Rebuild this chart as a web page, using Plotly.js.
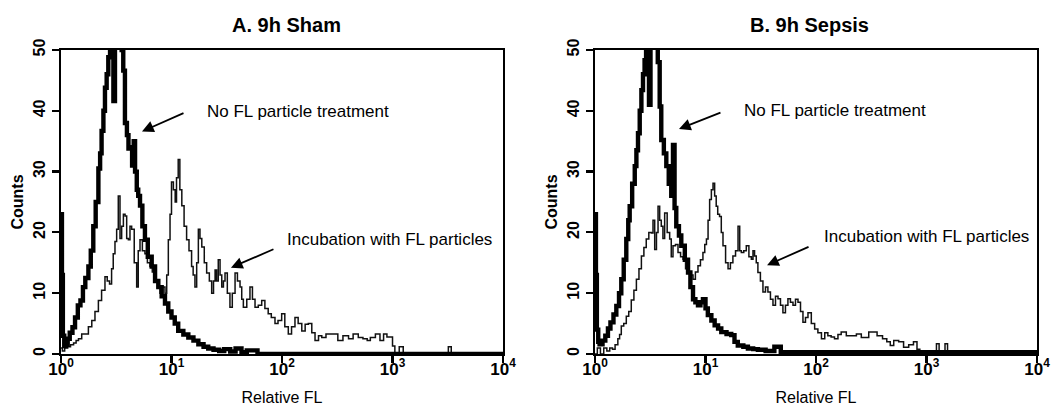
<!DOCTYPE html>
<html>
<head>
<meta charset="utf-8">
<script src="https://cdn.plot.ly/plotly-3.0.1.min.js"></script>
<style>html,body{margin:0;padding:0;background:#fff;}#chart{width:1057px;height:409px;}</style>
</head>
<body>
<div id="chart"></div>
<script>
// Panel A: 9h Sham — no FL particle treatment (thick)
var shamNoFL_x = [
1.00,1.02,1.04,1.07,1.10,1.15,1.20,1.27,1.34,1.42,
1.50,1.58,1.66,1.77,1.86,1.96,2.06,2.18,2.26,2.33,
2.42,2.50,2.59,2.68,2.78,2.88,2.98,3.08,3.18,3.30,
3.42,3.54,3.66,3.79,3.95,4.08,4.21,4.40,4.55,4.68,
4.85,5.00,5.19,5.45,5.75,6.10,6.62,7.10,7.60,8.15,
8.73,9.35,10.0,10.7,11.5,12.8,14.2,15.8,17.5,19.5,
21.5,24.0,27.0,30.0,34.0,38.0,43.0,48.0,60.0,10000];
var shamNoFL_y = [
23,13,3,1.3,1.5,2.5,3.5,4.4,6,8,
8.8,11,12.5,14.4,17,21,25,30.5,33,36.7,
40,43.8,46,48.8,52,55,41.6,53,55,52,
54,50,46.6,38,36,33.8,34,31,35,30,
27,26,24.4,21,18.8,16,14.4,12,11,9.5,
8.3,7,6,5,3.8,3.2,2.7,2.2,1.6,1.2,
0.9,0.7,0.5,0.8,0.4,0.9,0.3,0.6,0,0];

// Panel A: 9h Sham — incubation with FL particles (thin)
var shamFL_x = [
1.00,1.03,1.08,1.15,1.22,1.30,1.37,1.44,1.54,1.65,
1.77,1.90,2.03,2.18,2.33,2.50,2.62,2.75,2.87,2.97,
3.08,3.19,3.30,3.42,3.54,3.67,3.80,3.93,4.07,4.21,
4.36,4.60,4.84,5.00,5.19,5.45,5.75,6.05,6.38,6.70,
7.09,7.45,7.87,8.30,8.73,9.05,9.36,9.70,10.0,10.4,
10.8,11.1,11.5,11.9,12.4,13.0,13.7,14.4,15.2,15.7,
16.3,16.9,17.5,18.1,18.8,19.8,20.8,22.0,23.1,24.0,
24.8,25.6,26.5,27.5,28.5,29.5,30.5,32.0,33.8,35.5,
37.6,39.5,41.7,43.2,44.7,48.0,51.3,54.0,57.0,61.0,
65.5,70.0,75.0,80.0,86.4,92.0,99.3,106,114,122,
131,140,151,162,173,186,199,214,229,250,
282,320,356,400,440,490,540,590,630,700,
770,830,890,1000,1050,1150,1250,3000,3200,3400,
10000];
var shamFL_y = [
1,0.5,1,1.2,1.5,1.8,2.2,2.5,3.3,3.3,
4.5,5.5,7,8.8,10.5,12.7,12,11.5,14,16.5,
18.5,20.5,26,19,21,23,22.7,19,18.8,21,
20.5,15,11,17,18.8,17,16.5,15,14.4,13.5,
12,11,10,11,10,13,18.8,23,28.3,27,
25,29,32,27,24.4,21,18.8,17,14.4,13,
11,15,20.5,19,17.6,15,13.3,12,10,12,
13.8,12,15.5,13,11,12,13.3,10,7.7,10,
13.3,12,11,9,7.7,9,11,9,7.7,8,
8.8,7.5,6.6,6,5,5.5,6.6,4.5,3.3,4.5,
6,5,3.8,4.9,5,3.5,2.2,3,2.7,3.3,
3.3,2.2,3,2.5,3.3,2.7,2.5,2.2,2.7,3.3,
2.2,3.3,2.8,1.3,0,1.2,0,0,1.2,0,
0];

// Panel B: 9h Sepsis — no FL particle treatment (thick)
var sepsisNoFL_x = [
1.00,1.02,1.04,1.07,1.10,1.17,1.24,1.31,1.38,1.47,
1.56,1.65,1.73,1.82,1.92,2.00,2.06,2.17,2.29,2.37,
2.45,2.54,2.63,2.72,2.81,2.90,2.99,3.08,3.18,3.30,
3.42,3.55,3.70,3.85,3.98,4.20,4.42,4.65,4.90,5.08,
5.25,5.44,5.75,6.04,6.50,6.95,7.30,7.71,8.10,8.55,
9.00,9.48,10.0,10.5,11.3,12.1,13.0,13.9,15.5,17.1,
18.3,19.6,22.0,24.2,27.0,29.8,35.0,42.0,48.0,10000];
var sepsisNoFL_y = [
23,13,4,2,1.6,2.2,3,4.2,5.2,6.5,
7.9,10,12.3,15.5,18.9,22,24.3,28,30.9,33.5,
36.3,40,43.4,46,48.3,52,55,41,54,55,
52,53,48,40.7,35.2,33,30.9,28,26,34.4,
24,21,19.5,17.8,15.5,13.4,11,9,8.5,8,
8.5,9.0,7.5,6.4,5.5,4.7,4.2,3.6,3.3,3.1,
2,1.4,1.2,0.9,0.8,0.7,0.5,1.2,0.3,0];

// Panel B: 9h Sepsis — incubation with FL particles (thin)
var sepsisFL_x = [
1.00,1.05,1.12,1.20,1.28,1.36,1.44,1.52,1.61,1.67,
1.73,1.82,1.92,2.02,2.13,2.25,2.37,2.50,2.63,2.77,
2.91,3.07,3.24,3.35,3.47,3.60,3.72,3.85,3.98,4.12,
4.27,4.50,4.74,4.90,5.08,5.35,5.64,5.95,6.26,6.60,
6.95,7.30,7.71,8.10,8.55,9.00,9.48,9.85,10.2,10.55,
10.9,11.3,11.7,12.1,12.5,12.9,13.4,13.9,14.4,15.2,
16.0,16.8,17.7,18.7,19.7,20.4,21.1,22.2,23.4,24.7,
26.0,26.9,27.8,28.8,29.8,31.4,33.1,34.9,36.7,38.7,
40.8,43.0,45.3,47.7,50.2,52.9,55.7,58.7,61.9,65.2,
68.7,72.4,76.2,80.3,84.6,90.7,97.2,104,112,120,
128,137,147,158,169,188,208,232,257,300,
357,400,437,470,505,560,620,690,762,820,
870,950,1100,1230,1300,1470,1550,10000];
var sepsisFL_y = [
0,1,0,1,0.5,1,0.8,1.5,2.5,3.2,
4.6,5,6.2,7,8.9,10.5,12.3,14,16.1,17.5,
18.9,20,19.9,22,17.2,20,24.3,22,21,19,
23.2,20,18.9,16,17.8,18,16.7,16,15.6,14,
13.4,13,12.3,13.5,14.5,15.5,16.7,18,18.9,22,
25.4,27,28.1,26,24.3,23,22.6,20,17.8,15,
14,15,16.1,17,21,17,16.7,17,17.8,16,
15.6,17,16.1,15,13.4,12,10.2,11,10.2,9,
8,9.5,9.1,8,6.8,8,9.1,8.5,8,9,
8.5,7,5.2,6,6.8,5,4.1,3.5,2.5,3.5,
3,2.8,2.5,3.2,3.6,3,3,3.3,2.7,3.6,
3,2.5,2,1.4,2.2,2,1.1,1.5,2,0.8,
0,0,0,1.7,0,1.7,0,0];

var panelTitles = ['A. 9h Sham', 'B. 9h Sepsis'];
var labelNoFL = 'No FL particle treatment';
var labelFL = 'Incubation with FL particles';
var xTickVals = [1, 10, 100, 1000, 10000];
var xTickText = ['<b>10<sup>0</sup></b>', '<b>10<sup>1</sup></b>', '<b>10<sup>2</sup></b>', '<b>10<sup>3</sup></b>', '<b>10<sup>4</sup></b>'];
var yTickVals = [0, 10, 20, 30, 40, 50];
var yTickText = ['<b>0</b>', '<b>10</b>', '<b>20</b>', '<b>30</b>', '<b>40</b>', '<b>50</b>'];

var FONT = 'Liberation Sans, Arial, Helvetica, sans-serif';
var minorX = [];
[1, 10, 100, 1000].forEach(function (d) { for (var k = 2; k <= 9; k++) minorX.push(k * d); });
var minorY = [];
for (var v = 2; v < 50; v += 2) if (v % 10 !== 0) minorY.push(v);

function thick(x, y, xa, ya) {
  return {x: x, y: y, xaxis: xa, yaxis: ya, type: 'scatter', mode: 'lines',
    line: {shape: 'hv', color: '#000', width: 4.4}, hoverinfo: 'skip'};
}
function thin(x, y, xa, ya) {
  return {x: x, y: y, xaxis: xa, yaxis: ya, type: 'scatter', mode: 'lines',
    line: {shape: 'hv', color: '#111', width: 1.5}, hoverinfo: 'skip'};
}

var data = [
  thin(shamFL_x, shamFL_y, 'x', 'y'),
  thick(shamNoFL_x, shamNoFL_y, 'x', 'y'),
  thin(sepsisFL_x, sepsisFL_y, 'x2', 'y2'),
  thick(sepsisNoFL_x, sepsisNoFL_y, 'x2', 'y2')
];

function xAxis(domain, anchor) {
  return {
    type: 'log', range: [0, 4], domain: domain, anchor: anchor,
    showline: true, mirror: true, linewidth: 2.2, linecolor: '#000',
    showgrid: false, zeroline: false,
    ticks: 'outside', ticklen: 7, tickwidth: 2.2, tickcolor: '#000',
    tickmode: 'array', tickvals: xTickVals, ticktext: xTickText,
    ticklabelstandoff: -9,
    tickfont: {family: FONT, size: 17, color: '#000'},
    title: {text: 'Relative FL', font: {family: FONT, size: 16, color: '#000'}, standoff: 14}
  };
}
function yAxis(anchor) {
  return {
    range: [0, 50], domain: [0.1345, 0.8778], anchor: anchor,
    showline: true, mirror: true, linewidth: 2.2, linecolor: '#000',
    showgrid: false, zeroline: false,
    ticks: 'outside', ticklen: 7, tickwidth: 2.2, tickcolor: '#000',
    tickmode: 'array', tickvals: yTickVals, ticktext: yTickText, tickangle: -90,
    tickfont: {family: FONT, size: 16, color: '#000'},
    title: {text: '<b>Counts</b>', font: {family: FONT, size: 16, color: '#000'}, standoff: 4}
  };
}
// overlay axes carrying only the minor ticks
function xMinor(overlay, anchor) {
  return {type: 'log', range: [0, 4], overlaying: overlay, anchor: anchor, side: 'bottom',
    showline: false, showgrid: false, zeroline: false, showticklabels: false,
    ticks: 'outside', ticklen: 4, tickwidth: 2, tickcolor: '#000',
    tickmode: 'array', tickvals: minorX};
}
function yMinor(overlay, anchor) {
  return {range: [0, 50], overlaying: overlay, anchor: anchor, side: 'left',
    showline: false, showgrid: false, zeroline: false, showticklabels: false,
    ticks: 'outside', ticklen: 4, tickwidth: 2, tickcolor: '#000',
    tickmode: 'array', tickvals: minorY};
}

function arrow(xref, yref, xlog, y, ax, ay) {
  return {xref: xref, yref: yref, x: xlog, y: y, ax: ax, ay: ay, text: '',
    showarrow: true, arrowhead: 2, arrowsize: 1.3, arrowwidth: 1.8, arrowcolor: '#000'};
}
function label(xref, yref, xlog, y, txt) {
  return {xref: xref, yref: yref, x: xlog, y: y, text: txt, showarrow: false,
    xanchor: 'left', yanchor: 'middle', font: {family: FONT, size: 17, color: '#000'}};
}

var annotations = [
  {xref: 'paper', yref: 'paper', x: 0.2715, y: 0.94, text: '<b>' + panelTitles[0] + '</b>', showarrow: false,
    xanchor: 'center', yanchor: 'middle', font: {family: FONT, size: 20, color: '#000'}},
  {xref: 'paper', yref: 'paper', x: 0.766, y: 0.94, text: '<b>' + panelTitles[1] + '</b>', showarrow: false,
    xanchor: 'center', yanchor: 'middle', font: {family: FONT, size: 20, color: '#000'}},
  arrow('x', 'y', 0.733, 36.6, 43, -19),
  label('x', 'y', 1.30, 39.8, labelNoFL),
  arrow('x', 'y', 1.538, 14.2, 44, -19),
  label('x', 'y', 2.027, 18.8, labelFL),
  arrow('x2', 'y2', 0.760, 37.0, 43, -17),
  label('x2', 'y2', 1.33, 40.0, labelNoFL),
  arrow('x2', 'y2', 1.557, 14.6, 43, -19),
  label('x2', 'y2', 2.054, 19.3, labelFL)
];

var layout = {
  width: 1057, height: 409,
  margin: {l: 0, r: 0, t: 0, b: 0},
  paper_bgcolor: '#fff', plot_bgcolor: '#fff',
  showlegend: false,
  font: {family: FONT, color: '#000', size: 16},
  xaxis: xAxis([0.0577, 0.4759], 'y'),
  yaxis: yAxis('x'),
  xaxis2: xAxis([0.5629, 0.9811], 'y2'),
  yaxis2: yAxis('x2'),
  xaxis3: xMinor('x', 'y'),
  yaxis3: yMinor('y', 'x'),
  xaxis4: xMinor('x2', 'y2'),
  yaxis4: yMinor('y2', 'x2'),
  annotations: annotations
};

Plotly.newPlot('chart', data, layout, {staticPlot: true, displayModeBar: false});
</script>
</body>
</html>
